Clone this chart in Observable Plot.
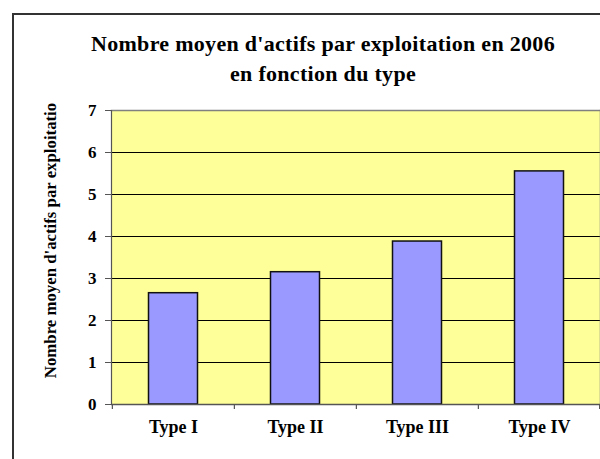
<!DOCTYPE html>
<html>
<head>
<meta charset="utf-8">
<script src="https://cdn.jsdelivr.net/npm/d3@7"></script>
<script src="https://cdn.jsdelivr.net/npm/@observablehq/plot@0.6"></script>
<style>
  html, body { margin: 0; padding: 0; background: #fff; }
  #wrap { position: relative; width: 600px; height: 459px; overflow: hidden; background: #fff; }
  #outer { position: absolute; left: 12px; top: 13px; width: 700px; height: 600px;
           border-left: 2px solid #333; border-top: 2px solid #333; }
  #title { position: absolute; left: 0; top: 29px; width: 646px; text-align: center;
           font-family: "Liberation Serif", "Times New Roman", serif; font-weight: bold;
           font-size: 22px; line-height: 30px; letter-spacing: 0.3px; color: #000; }
  #chart { position: absolute; left: 0; top: 100px; }
  #chart svg text { font-family: "Liberation Serif", "Times New Roman", serif !important; font-weight: bold !important; font-variant-numeric: normal !important; }
</style>
</head>
<body>
<div id="wrap">
  <div id="outer"></div>
  <div id="title"></div>
  <div id="chart"></div>
</div>
<script>
const titleLines = ["Nombre moyen d'actifs par exploitation en 2006", "en fonction du type"];
const yLabel = "Nombre moyen d'actifs par exploitatio";
const categories = ["Type I", "Type II", "Type III", "Type IV"];
const values = [2.65, 3.15, 3.88, 5.55];
const yTicks = [0, 1, 2, 3, 4, 5, 6, 7];
const gridLines = [1, 2, 3, 4, 5, 6];

const data = categories.map((c, i) => ({type: c, value: values[i]}));

const titleEl = document.getElementById("title");
titleLines.forEach(t => { const d = document.createElement("div"); d.textContent = t; titleEl.appendChild(d); });

const W = 600, H = 359, mL = 111, mR = 0;
const bw = (W - mL - mR) / categories.length;

const chart = Plot.plot({
  width: W, height: H,
  marginTop: 10, marginBottom: 55, marginLeft: mL, marginRight: mR,
  style: {fontFamily: "'Liberation Serif', 'Times New Roman', serif", background: "transparent", overflow: "visible"},
  x: {domain: categories, padding: 0, axis: null},
  y: {domain: [0, 7], axis: null},
  marks: [
    Plot.frame({fill: "#FFFF99", stroke: null}),
    Plot.ruleY(gridLines, {stroke: "#000", strokeWidth: 1}),
    Plot.barY(data, {x: "type", y: "value", fill: "#9999FF", stroke: "#111", strokeWidth: 1.5, insetLeft: 36.5, insetRight: 36.5}),
    Plot.frame({anchor: "top", stroke: "#808080", strokeWidth: 1.5}),
    Plot.frame({anchor: "right", stroke: "#808080", strokeWidth: 1.5}),
    Plot.frame({anchor: "left", stroke: "#555", strokeWidth: 1.2}),
    Plot.ruleY([0], {stroke: "#555", strokeWidth: 1.5}),
    Plot.axisY({ticks: yTicks, tickSize: 6, tickPadding: 9, fontSize: 17, fontWeight: "bold", stroke: "#555", label: null, tickFormat: d => String(d)}),
    Plot.axisX({tickSize: 0, tickPadding: 16, fontSize: 18, fontWeight: "bold", label: null}),
    Plot.ruleX(categories, {x: d => d, y1: 0, y2: 0, dx: -bw / 2, insetBottom: -5, stroke: "#555", strokeWidth: 1.2}),
    Plot.ruleX([categories[categories.length - 1]], {x: d => d, y1: 0, y2: 0, dx: bw / 2 - 1, insetBottom: -5, stroke: "#555", strokeWidth: 1.2}),
    Plot.text([yLabel], {text: d => d, frameAnchor: "left", rotate: -90, dx: -56, dy: -17, lineAnchor: "bottom", textAnchor: "middle", fontSize: 16.8, fontWeight: "bold", fill: "#000"})
  ]
});
document.getElementById("chart").appendChild(chart);
</script>
</body>
</html>
